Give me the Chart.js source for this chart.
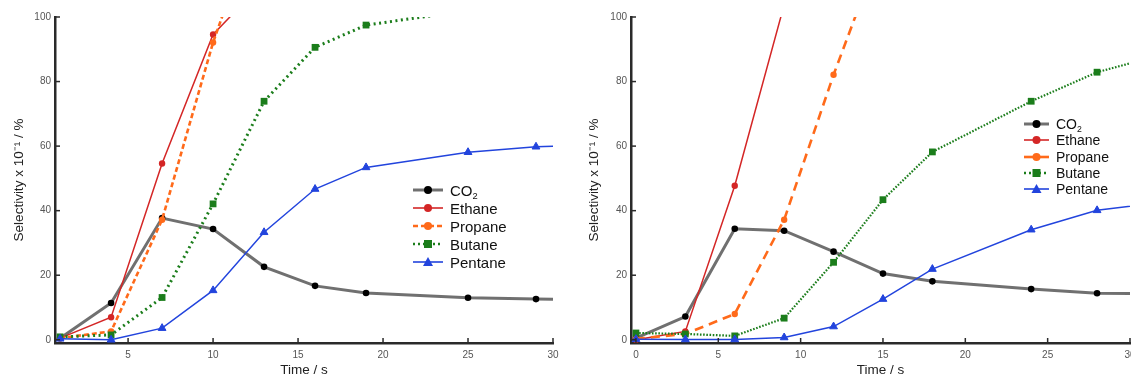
<!DOCTYPE html>
<html><head><meta charset="utf-8">
<script src="https://cdn.jsdelivr.net/npm/chart.js@4/dist/chart.umd.min.js"></script>
<style>
html,body{margin:0;padding:0;background:#fff;overflow:hidden;width:1131px;height:379px;position:relative;font-family:"Liberation Sans",Arial,sans-serif;}
#c1{position:absolute;left:0;top:0;}
#c2{position:absolute;left:565px;top:0;}
.legend{position:absolute;color:#111;}
.legend .row{display:flex;align-items:center;white-space:nowrap;}
.legend svg{flex:none;display:block;}
.legend sub{font-size:0.62em;vertical-align:-0.3em;line-height:0;}
</style></head><body>
<canvas id="c1" width="565" height="379"></canvas>
<canvas id="c2" width="600" height="379"></canvas>
<div class="legend" id="lg1"></div>
<div class="legend" id="lg2"></div>
<script>
// ---------- data ----------
const seriesNames = ['CO<sub>2</sub>', 'Ethane', 'Propane', 'Butane', 'Pentane'];

// left panel
const leftTime = [1, 4, 7, 10, 13, 16, 19, 25, 29, 33];
const leftCO2 = [0.5, 11.4, 37.7, 34.3, 22.6, 16.7, 14.5, 13.0, 12.6, 12.4];
const leftEthaneTime = [1, 4, 7, 10, 13];
const leftEthane = [0.5, 7.0, 54.6, 94.6, 111];
const leftPropaneTime = [1, 4, 7, 10, 13];
const leftPropane = [0.5, 2.6, 37.2, 92.1, 137];
const leftButaneTime = [1, 4, 7, 10, 13, 16, 19, 25];
const leftButane = [0.9, 1.5, 13.1, 42.1, 73.9, 90.6, 97.5, 102];
const leftPentane = [0.3, 0.0, 3.6, 15.3, 33.3, 46.7, 53.4, 58.1, 59.8, 60.3];

// right panel
const rightTime = [0, 3, 6, 9, 12, 15, 18, 24, 28, 32];
const rightCO2 = [0.5, 7.2, 34.4, 33.8, 27.3, 20.5, 18.1, 15.7, 14.4, 14.2];
const rightEthaneTime = [0, 3, 6, 9];
const rightEthane = [0, 2.6, 47.7, 103.8];
const rightPropaneTime = [0, 3, 6, 9, 12, 15];
const rightPropane = [0.3, 1.8, 8.0, 37.2, 82.1, 123];
const rightButane = [2.1, 1.8, 1.2, 6.7, 24.0, 43.4, 58.2, 73.9, 82.9, 88.4];
const rightPentane = [0.2, 0.1, 0.1, 0.7, 4.1, 12.6, 21.9, 34.1, 40.1, 42.6];

// ticks
const leftXTicks = [5, 10, 15, 20, 25, 30];
const rightXTicks = [0, 5, 10, 15, 20, 25, 30];
const yTicks = [0, 20, 40, 60, 80, 100];
const xTitle = 'Time / s';
const yTitle = 'Selectivity x 10\u207B\u00B9 / %';

// ---------- styling ----------
const FAM = '"Liberation Sans", Arial, sans-serif';
const C = {co2:'#707070', co2pt:'#000000', eth:'#d42626', pro:'#ff6a1a', but:'#1b7d1b', pen:'#2244dd'};

function pts(xs, ys){ return ys.map((v,i)=>({x:xs[i], y:v})); }

function datasets(side){
  const L = side === 'left';
  const T = L ? leftTime : rightTime;
  return [
    {label:'Pentane', data: pts(T, L ? leftPentane : rightPentane), borderColor:C.pen, backgroundColor:C.pen,
     borderWidth:1.5, pointStyle:'triangle', pointRadius:4.5, pointBackgroundColor:C.pen, pointBorderColor:C.pen, pointBorderWidth:1},
    {label:'Butane', data: pts(L ? leftButaneTime : rightTime, L ? leftButane : rightButane), borderColor:C.but, backgroundColor:C.but,
     borderWidth: L ? 3 : 2.2, borderDash: L ? [2,3.5] : [1.6,1.6], pointStyle:'rect', pointRadius:4.8, pointBackgroundColor:C.but, pointBorderColor:C.but, pointBorderWidth:0},
    {label:'Propane', data: pts(L ? leftPropaneTime : rightPropaneTime, L ? leftPropane : rightPropane), borderColor:C.pro, backgroundColor:C.pro,
     borderWidth: 2.6, borderDash: L ? [5,3] : [9,6], pointStyle:'circle', pointRadius:3.2, pointBackgroundColor:C.pro, pointBorderColor:C.pro, pointBorderWidth:0},
    {label:'Ethane', data: pts(L ? leftEthaneTime : rightEthaneTime, L ? leftEthane : rightEthane), borderColor:C.eth, backgroundColor:C.eth,
     borderWidth:1.5, pointStyle:'circle', pointRadius:3.2, pointBackgroundColor:C.eth, pointBorderColor:C.eth, pointBorderWidth:0},
    {label:'CO2', data: pts(T, L ? leftCO2 : rightCO2), borderColor:C.co2, backgroundColor:C.co2pt,
     borderWidth:3, pointStyle:'circle', pointRadius:3.3, pointBackgroundColor:C.co2pt, pointBorderColor:C.co2pt, pointBorderWidth:0}
  ].map(d => Object.assign({tension:0, fill:false}, d));
}

const innerTicks = {
  id:'innerTicks',
  afterDraw(chart){
    const {ctx, chartArea:{left, bottom}} = chart;
    const xs = chart.scales.x, ys = chart.scales.y;
    ctx.save();
    ctx.strokeStyle = '#2a2a2a'; ctx.lineWidth = 1.5;
    xs.ticks.forEach(t => { const p = xs.getPixelForValue(t.value); ctx.beginPath(); ctx.moveTo(p, bottom); ctx.lineTo(p, bottom - 5); ctx.stroke(); });
    ys.ticks.forEach(t => { const p = ys.getPixelForValue(t.value); ctx.beginPath(); ctx.moveTo(left, p); ctx.lineTo(left + 5, p); ctx.stroke(); });
    ctx.restore();
  }
};

function makeChart(id, side){
  const L = side === 'left';
  const xTicks = L ? leftXTicks : rightXTicks;
  return new Chart(document.getElementById(id), {
    type:'line',
    data:{datasets: datasets(side)},
    options:{
      responsive:false, animation:false, devicePixelRatio:1,
      layout:{padding:{left:0, right: L ? 12 : 35, top:17, bottom:0}},
      plugins:{legend:{display:false}, tooltip:{enabled:false}},
      scales:{
        x:{type:'linear', min: L ? 0.7 : -0.3, max:30,
           afterBuildTicks: s => { s.ticks = xTicks.map(v => ({value:v})); },
           afterFit: s => { s.height = 36; },
           grid:{display:false, drawTicks:false},
           border:{display:true, color:'#2a2a2a', width:2.5},
           ticks:{padding:6, color:'#555', font:{size:10, family:FAM}},
           title:{display:true, text:xTitle, color:'#222', font:{size:13.5, family:FAM}, padding:{top:0, bottom:1}}},
        y:{type:'linear', min:-1, max:100,
           afterBuildTicks: s => { s.ticks = yTicks.map(v => ({value:v})); },
           afterFit: s => { s.width = L ? 55 : 66; },
           grid:{display:false, drawTicks:false},
           border:{display:true, color:'#2a2a2a', width:2.5},
           ticks:{padding:4, color:'#555', font:{size:10, family:FAM}},
           title:{display:true, text:yTitle, color:'#222', font:{size:13.5, family:FAM}, padding:{top: L ? 11 : 21, bottom:0}}}
      }
    },
    plugins:[innerTicks]
  });
}

makeChart('c1', 'left');
makeChart('c2', 'right');

// ---------- legends ----------
function sample(i, w, dashedPropane){
  const h = 14, cy = 7, cx = w/2;
  const line = (col, sw, dash) => `<line x1="0" y1="${cy}" x2="${w}" y2="${cy}" stroke="${col}" stroke-width="${sw}" ${dash ? `stroke-dasharray="${dash}"` : ''}/>`;
  let s = '';
  if (i === 0) s = line(C.co2, 3) + `<circle cx="${cx}" cy="${cy}" r="4" fill="#000"/>`;
  if (i === 1) s = line(C.eth, 1.6) + `<circle cx="${cx}" cy="${cy}" r="4" fill="${C.eth}"/>`;
  if (i === 2) s = line(C.pro, 2.6, dashedPropane ? '5,3' : '') + `<circle cx="${cx}" cy="${cy}" r="4" fill="${C.pro}"/>`;
  if (i === 3) s = line(C.but, 2.6, '2,3') + `<rect x="${cx-4}" y="${cy-4}" width="8" height="8" fill="${C.but}"/>`;
  if (i === 4) s = line(C.pen, 1.6) + `<polygon points="${cx},${cy-5} ${cx-5},${cy+4} ${cx+5},${cy+4}" fill="${C.pen}"/>`;
  return `<svg width="${w}" height="${h}">${s}</svg>`;
}
function buildLegend(id, left, top, rowH, fs, w, gap, dashedPropane){
  const el = document.getElementById(id);
  el.style.left = left + 'px'; el.style.top = top + 'px'; el.style.fontSize = fs + 'px';
  el.innerHTML = seriesNames.map((n, i) =>
    `<div class="row" style="height:${rowH}px">${sample(i, w, dashedPropane)}<span style="margin-left:${gap}px">${n}</span></div>`).join('');
}
buildLegend('lg1', 413, 181, 18, 15, 30, 7, true);
buildLegend('lg2', 1024, 116, 16.3, 14, 25, 7, false);
</script>
</body></html>
